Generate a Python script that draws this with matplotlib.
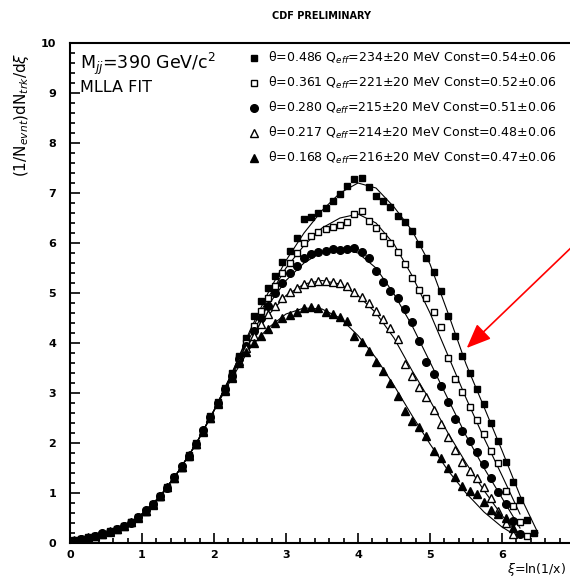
import matplotlib
matplotlib.use("Agg")
import matplotlib.pyplot as plt
from matplotlib.ticker import MultipleLocator, FixedLocator

# bin centres in xi = ln(1/x), shared by all five samples
XI = [0.05, 0.15, 0.25, 0.35, 0.45, 0.55, 0.65, 0.75, 0.85, 0.95,
      1.05, 1.15, 1.25, 1.35, 1.45, 1.55, 1.65, 1.75, 1.85, 1.95,
      2.05, 2.15, 2.25, 2.35, 2.45, 2.55, 2.65, 2.75, 2.85, 2.95,
      3.05, 3.15, 3.25, 3.35, 3.45, 3.55, 3.65, 3.75, 3.85, 3.95,
      4.05, 4.15, 4.25, 4.35, 4.45, 4.55, 4.65, 4.75, 4.85, 4.95,
      5.05, 5.15, 5.25, 5.35, 5.45, 5.55, 5.65, 5.75, 5.85, 5.95,
      6.05, 6.15, 6.25, 6.35, 6.45]

# theta = 0.486
Y_A = [0.05, 0.09, 0.11, 0.14, 0.19, 0.24, 0.28, 0.35, 0.42, 0.53,
       0.65, 0.77, 0.95, 1.13, 1.30, 1.53, 1.76, 1.97, 2.25, 2.55,
       2.82, 3.10, 3.40, 3.75, 4.10, 4.55, 4.85, 5.10, 5.35, 5.62,
       5.85, 6.10, 6.48, 6.52, 6.60, 6.70, 6.85, 6.98, 7.15, 7.28,
       7.30, 7.12, 6.95, 6.85, 6.72, 6.55, 6.42, 6.25, 5.98, 5.70,
       5.42, 5.05, 4.55, 4.15, 3.75, 3.40, 3.08, 2.78, 2.40, 2.05,
       1.62, 1.22, 0.86, 0.46, 0.20]
# theta = 0.361
Y_B = [0.06, 0.08, 0.12, 0.15, 0.18, 0.23, 0.29, 0.34, 0.43, 0.51,
       0.63, 0.79, 0.93, 1.10, 1.33, 1.50, 1.73, 2.00, 2.22, 2.50,
       2.78, 3.06, 3.35, 3.70, 4.00, 4.35, 4.65, 4.90, 5.15, 5.40,
       5.60, 5.80, 6.00, 6.15, 6.22, 6.28, 6.32, 6.36, 6.42, 6.58,
       6.64, 6.45, 6.30, 6.15, 6.00, 5.82, 5.58, 5.30, 5.06, 4.90,
       4.62, 4.32, 3.70, 3.28, 3.02, 2.72, 2.46, 2.18, 1.85, 1.60,
       1.05, 0.75, 0.42, 0.15]
# theta = 0.280
Y_C = [0.05, 0.08, 0.10, 0.15, 0.20, 0.22, 0.28, 0.35, 0.41, 0.52,
       0.66, 0.78, 0.94, 1.11, 1.32, 1.54, 1.74, 1.99, 2.26, 2.52,
       2.80, 3.08, 3.34, 3.68, 3.95, 4.25, 4.50, 4.75, 5.00, 5.20,
       5.40, 5.55, 5.70, 5.78, 5.82, 5.85, 5.88, 5.86, 5.88, 5.90,
       5.82, 5.70, 5.45, 5.22, 5.05, 4.90, 4.68, 4.42, 4.05, 3.62,
       3.38, 3.15, 2.82, 2.48, 2.25, 2.05, 1.82, 1.58, 1.30, 1.02,
       0.78, 0.45, 0.18]
# theta = 0.217
Y_D = [0.06, 0.09, 0.11, 0.14, 0.19, 0.23, 0.29, 0.34, 0.42, 0.52,
       0.64, 0.78, 0.95, 1.12, 1.31, 1.53, 1.75, 1.98, 2.23, 2.50,
       2.79, 3.05, 3.32, 3.65, 3.90, 4.15, 4.38, 4.58, 4.75, 4.90,
       5.02, 5.10, 5.18, 5.22, 5.25, 5.24, 5.22, 5.20, 5.15, 5.02,
       4.92, 4.80, 4.65, 4.48, 4.30, 4.08, 3.58, 3.35, 3.12, 2.92,
       2.66, 2.38, 2.12, 1.86, 1.62, 1.45, 1.30, 1.12, 0.90, 0.65,
       0.40, 0.18]
# theta = 0.168
Y_E = [0.05, 0.08, 0.12, 0.15, 0.18, 0.24, 0.28, 0.35, 0.43, 0.51,
       0.65, 0.77, 0.94, 1.13, 1.31, 1.52, 1.76, 1.99, 2.24, 2.51,
       2.81, 3.07, 3.30, 3.60, 3.82, 4.00, 4.15, 4.28, 4.40, 4.50,
       4.56, 4.62, 4.70, 4.72, 4.70, 4.62, 4.58, 4.52, 4.45, 4.15,
       4.02, 3.85, 3.62, 3.45, 3.20, 2.95, 2.65, 2.45, 2.32, 2.15,
       1.85, 1.70, 1.50, 1.32, 1.15, 1.05, 0.98, 0.82, 0.66, 0.58,
       0.50, 0.30]

# MLLA fit curves, sampled every 0.25 in xi
FIT_XI = [1.0, 1.25, 1.5, 1.75, 2.0, 2.25, 2.5, 2.75, 3.0, 3.25, 3.5, 3.75,
          4.0, 4.25, 4.5, 4.75, 5.0, 5.25, 5.5, 5.75, 6.0, 6.25, 6.5]
FIT_A = [0.58, 0.93, 1.42, 1.98, 2.65, 3.40, 4.25, 5.00, 5.65, 6.20, 6.65,
         7.00, 7.20, 7.10, 6.72, 6.25, 5.58, 4.60, 3.58, 2.72, 1.85, 0.95, 0.20]
FIT_B = [0.58, 0.93, 1.42, 1.98, 2.65, 3.40, 4.20, 4.90, 5.50, 5.95, 6.30,
         6.50, 6.58, 6.40, 5.98, 5.35, 4.60, 3.75, 2.90, 2.10, 1.35, 0.58]
FIT_C = [0.58, 0.93, 1.42, 1.98, 2.65, 3.38, 4.12, 4.75, 5.25, 5.60, 5.82,
         5.90, 5.80, 5.50, 4.98, 4.35, 3.62, 2.88, 2.15, 1.50, 0.90, 0.30]
FIT_D = [0.58, 0.93, 1.42, 1.98, 2.65, 3.35, 4.02, 4.55, 4.95, 5.18, 5.25,
         5.18, 4.95, 4.60, 4.10, 3.45, 2.85, 2.20, 1.60, 1.05, 0.55, 0.15]
FIT_E = [0.58, 0.93, 1.42, 1.98, 2.65, 3.30, 3.90, 4.30, 4.58, 4.70, 4.68,
         4.50, 4.15, 3.70, 3.15, 2.55, 1.98, 1.45, 1.00, 0.62, 0.32, 0.10]

LABELS = [
    r"θ=0.486 Q$_{eff}$=234±20 MeV Const=0.54±0.06",
    r"θ=0.361 Q$_{eff}$=221±20 MeV Const=0.52±0.06",
    r"θ=0.280 Q$_{eff}$=215±20 MeV Const=0.51±0.06",
    r"θ=0.217 Q$_{eff}$=214±20 MeV Const=0.48±0.06",
    r"θ=0.168 Q$_{eff}$=216±20 MeV Const=0.47±0.06",
]
X_TICKS = [0, 1, 2, 3, 4, 5, 6]

W, H = 570, 580
fig = plt.figure(figsize=(W / 100, H / 100), dpi=100)
ax = fig.add_axes([70 / W, 37 / H, 540 / W, 500 / H])

styles = [
    dict(marker="s", mfc="black", ms=5),
    dict(marker="s", mfc="white", ms=5),
    dict(marker="o", mfc="black", ms=5.5),
    dict(marker="^", mfc="white", ms=5.5),
    dict(marker="^", mfc="black", ms=6),
]
series = [Y_A, Y_B, Y_C, Y_D, Y_E]
fits = [FIT_A, FIT_B, FIT_C, FIT_D, FIT_E]

for fy in fits:
    ax.plot(FIT_XI[:len(fy)], fy, color="black", lw=0.8, zorder=2)

handles = []
for ys, st, lab in zip(series, styles, LABELS):
    h, = ax.plot(XI[:len(ys)], ys, ls="none", color="black", mec="black",
                 mew=1.0, label=lab, zorder=3, **st)
    handles.append(h)

ax.set_xlim(0, 7.5)
ax.set_ylim(0, 10)
ax.xaxis.set_major_locator(FixedLocator(X_TICKS))
ax.xaxis.set_minor_locator(MultipleLocator(0.2))
ax.yaxis.set_major_locator(MultipleLocator(1))
ax.yaxis.set_minor_locator(MultipleLocator(0.2))
ax.tick_params(which="both", direction="in", top=False, right=False, width=1.2)
ax.tick_params(which="major", length=7, labelsize=8)
ax.tick_params(which="minor", length=3.5)
ax.tick_params(axis="y", pad=10)
ax.tick_params(axis="x", pad=5)
for lbl in ax.get_xticklabels() + ax.get_yticklabels():
    lbl.set_fontweight("bold")
for sp in ax.spines.values():
    sp.set_linewidth(1.5)

fig.legend(handles=handles, loc="upper left",
           bbox_to_anchor=(249 / W, 1 - 50 / H), frameon=False,
           fontsize=9, handlelength=0.8, handletextpad=0.7,
           labelspacing=0.72, borderaxespad=0, borderpad=0)

fig.text(80 / W, 1 - 64 / H, r"M$_{jj}$=390 GeV/c$^{2}$", fontsize=12.5,
         va="center", ha="left")
fig.text(80 / W, 1 - 88 / H, "MLLA FIT", fontsize=11.5, va="center", ha="left")
fig.text(322 / W, 1 - 16 / H, "CDF PRELIMINARY", fontsize=7, fontweight="bold",
         ha="center", va="center")
fig.text(22 / W, 1 - 115 / H, r"(1/N$_{evnt}$)dN$_{trk}$/d$\xi$", fontsize=11,
         rotation=90, ha="center", va="center")
fig.text(507 / W, 1 - 569 / H, r"$\xi$=ln(1/x)", fontsize=9,
         ha="left", va="center")

ax.annotate("", xy=(5.51, 3.9), xytext=(7.1, 6.1),
            arrowprops=dict(arrowstyle="-|>,head_length=0.6,head_width=0.25",
                            color="red", lw=1.2, mutation_scale=25,
                            shrinkA=0, shrinkB=0),
            annotation_clip=False)

fig.savefig("out.png", dpi=100)
